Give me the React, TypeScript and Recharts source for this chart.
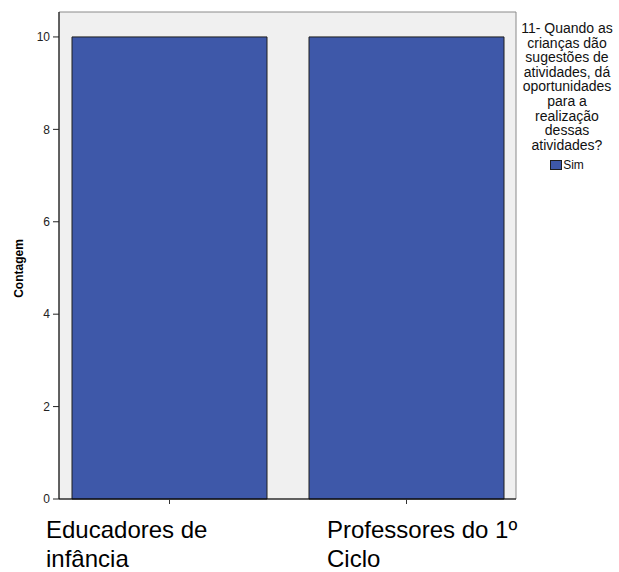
import React from 'react';
import { BarChart, Bar, XAxis, YAxis, CartesianGrid, Legend, ReferenceArea } from 'recharts';

const categories = ['Educadores de infância', 'Professores do 1º Ciclo'];
const tickLines = [['Educadores de', 'infância'], ['Professores do 1º', 'Ciclo']];
const simValues = [10, 10];
const yTicks = [0, 2, 4, 6, 8, 10];
const legendTitleLines = ['11- Quando as', 'crianças dão', 'sugestões de', 'atividades, dá', 'oportunidades', 'para a', 'realização', 'dessas', 'atividades?'];
const seriesName = 'Sim';
const yLabel = 'Contagem';

const data = categories.map((c, i) => ({ category: c, sim: simValues[i] }));

const FONT = '"Liberation Sans", Arial, sans-serif';
const BAR_FILL = '#3e58a9';
const BAR_STROKE = '#1e1e1e';
const labelOffsets = [-123.5, -79.5];
const Y_MAX = 10.54;

const XTick = (props: any) => {
  const { x, y, index } = props;
  const lines = tickLines[index] || [];
  const lx = x + labelOffsets[index];
  return (
    <text x={lx} y={y} fontFamily={FONT} fontSize={24} fill="#000" textAnchor="start">
      {lines.map((l, i) => (
        <tspan key={i} x={lx} y={y + 32 + i * 29}>{l}</tspan>
      ))}
    </text>
  );
};

const YLabel = (props: any) => {
  const vb = props.viewBox || { x: 0, y: 12, width: 59, height: 487 };
  const cx = vb.x + 23;
  const cy = vb.y + vb.height / 2 + 13;
  return (
    <text x={cx} y={cy} transform={`rotate(-90, ${cx}, ${cy})`} textAnchor="middle" fontFamily={FONT} fontWeight="bold" fontSize={12} fill="#000">
      {yLabel}
    </text>
  );
};

const LegendContent = (props: any) => {
  const item = (props.payload && props.payload[0]) || { value: seriesName, color: BAR_FILL };
  return (
    <div style={{ width: 100, textAlign: 'center', fontFamily: FONT, fontSize: 14, lineHeight: '14.6px', color: '#111' }}>
      {legendTitleLines.map((l) => (
        <div key={l} style={{ whiteSpace: 'nowrap' }}>{l}</div>
      ))}
      <div style={{ display: 'flex', justifyContent: 'center', alignItems: 'center', marginTop: 6, height: 14, fontSize: 12, lineHeight: '14px' }}>
        <span style={{ display: 'inline-block', width: 12, height: 10, background: item.color || BAR_FILL, border: `1px solid ${BAR_STROKE}`, boxSizing: 'border-box', marginRight: 1 }} />
        <span>{item.value}</span>
      </div>
    </div>
  );
};

export default function App() {
  return (
    <div style={{ position: 'absolute', left: 0, top: 0, width: 619, height: 572, background: '#fff' }}>
      <BarChart width={619} height={572} data={data} margin={{ top: 12, right: 103, left: 0, bottom: 0 }}>
        <CartesianGrid horizontal={false} vertical={false} fill="#f0f0f0" />
        <XAxis xAxisId="frame" dataKey="category" hide />
        <XAxis
          dataKey="category"
          height={73}
          padding={{ left: -8, right: -9 }}
          tickSize={5}
          tick={<XTick />}
          interval={0}
          axisLine={{ stroke: '#000' }}
          tickLine={{ stroke: '#333' }}
        />
        <YAxis
          width={59}
          domain={[0, Y_MAX]}
          ticks={yTicks}
          tickSize={6}
          tickMargin={3}
          tick={{ fontFamily: FONT, fontSize: 12, fill: '#222' }}
          axisLine={{ stroke: '#000' }}
          tickLine={{ stroke: '#222' }}
          label={<YLabel />}
        />
        <ReferenceArea xAxisId="frame" y1={0} y2={Y_MAX} fill="none" stroke="#8a8a8a" strokeWidth={1} ifOverflow="visible" />
        <Bar dataKey="sim" name={seriesName} fill={BAR_FILL} stroke={BAR_STROKE} strokeWidth={1} barSize={195} isAnimationActive={false} />
        <Legend layout="horizontal" verticalAlign="middle" align="center" content={<LegendContent />} wrapperStyle={{ left: 517, top: 21, width: 100, height: 'auto' }} />
      </BarChart>
    </div>
  );
}
